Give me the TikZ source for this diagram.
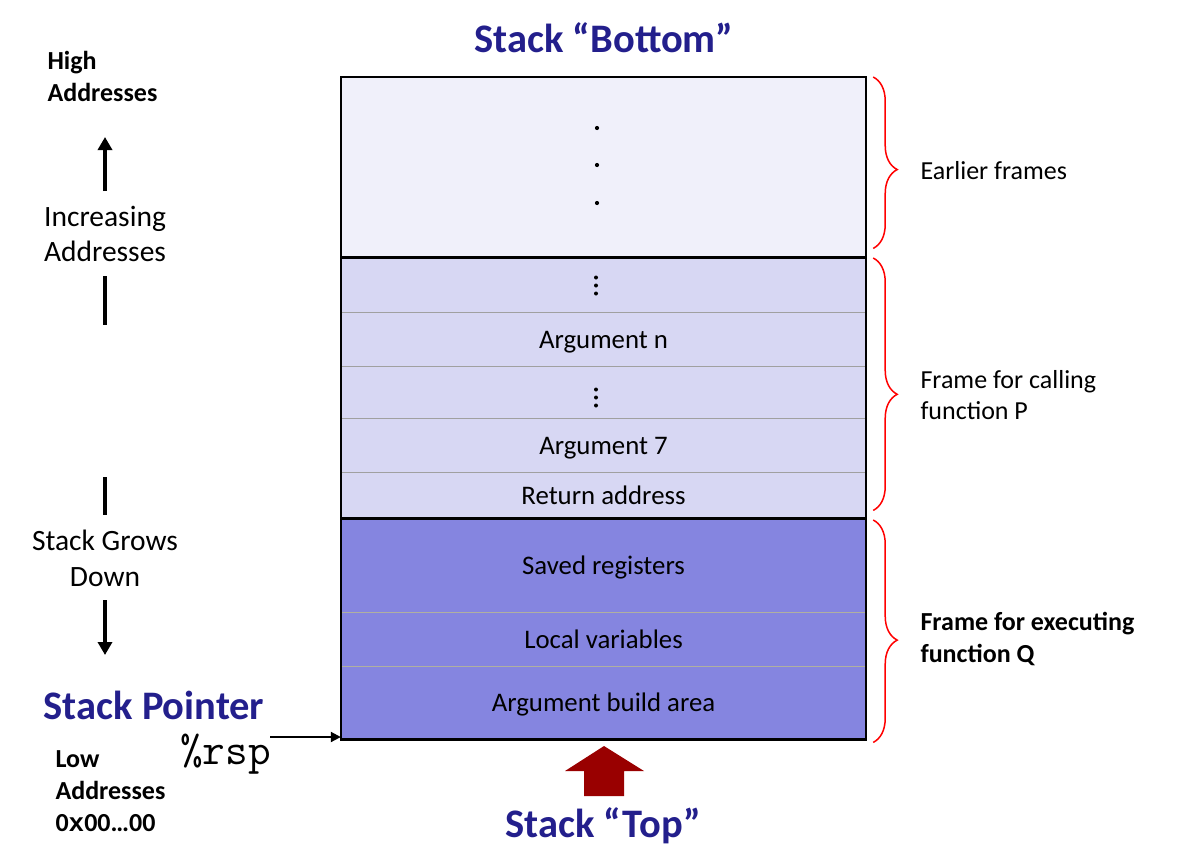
\documentclass[tikz,border=0pt]{standalone}
\usepackage{fontspec}
\setmainfont{Carlito}
\newfontfamily\monofont{Liberation Mono}
\usetikzlibrary{arrows.meta,decorations.pathreplacing}
\definecolor{titleblue}{RGB}{35,31,140}
\definecolor{earlyfill}{RGB}{240,240,250}
\definecolor{pfill}{RGB}{215,215,243}
\definecolor{qfill}{RGB}{133,133,224}
\definecolor{darkred}{RGB}{153,0,0}
\definecolor{sepgray}{RGB}{160,160,160}
\definecolor{sepgrayq}{RGB}{176,176,160}
\begin{document}
\begin{tikzpicture}[x=1pt,y=-1pt,
  row/.style={rectangle, inner sep=0pt, minimum width=525pt, anchor=north,
    text height=21pt, text depth=3pt,
    font=\fontsize{26.8}{32}\selectfont},
  lefttxt/.style={align=center, font=\fontsize{29.5}{35.5}\selectfont},
  righttxt/.style={align=left, anchor=west, font=\fontsize{26}{31}\selectfont},
  boldlbl/.style={align=left, anchor=west, font=\bfseries\fontsize{26}{32}\selectfont},
  title/.style={text=titleblue, font=\bfseries\fontsize{40.5}{46}\selectfont},
  bigarrow/.style={line width=4pt, -{Triangle[width=14pt,length=13pt]}},
  bar/.style={line width=4pt},
  redbrace/.style={draw=red, line width=1.5pt, decorate,
    decoration={brace, amplitude=24pt, aspect=0.54}},
  sep/.style={draw=sepgray, line width=1.5pt},
  sepq/.style={draw=sepgrayq, line width=1.5pt},
  dotmark/.style={circle, fill=black, inner sep=0pt, minimum size=4.2pt}
]
\useasboundingbox (0,0) rectangle (1190,860);

% rows
\node[row, fill=earlyfill, minimum height=180pt] (earlier) at (603.5,77) {};
\node[row, fill=pfill, minimum height=55pt] (dotsA) at (603.5,257) {};
\node[row, fill=pfill, minimum height=54pt] (argn) at (603.5,312) {Argument n};
\node[row, fill=pfill, minimum height=52pt] (dotsB) at (603.5,366) {};
\node[row, fill=pfill, minimum height=54pt] (argseven) at (603.5,418) {Argument 7};
\node[row, fill=pfill, minimum height=46pt] (ret) at (603.5,472) {Return address};
\node[row, fill=qfill, minimum height=94pt] (saved) at (603.5,518) {Saved registers};
\node[row, fill=qfill, minimum height=54pt] (local) at (603.5,612) {Local variables};
\node[row, fill=qfill, minimum height=73pt] (build) at (603.5,666) {Argument build area};

% separators
\draw[sep] (dotsA.south west) -- (dotsA.south east);
\draw[sep] (argn.south west) -- (argn.south east);
\draw[sep] (dotsB.south west) -- (dotsB.south east);
\draw[sep] (argseven.south west) -- (argseven.south east);
\draw[sepq] (saved.south west) -- (saved.south east);
\draw[sepq] (local.south west) -- (local.south east);
\draw[line width=2.5pt] (earlier.south west) -- (earlier.south east);
\draw[line width=2.5pt] (ret.south west) -- (ret.south east);
\draw[line width=2.5pt] (earlier.north west) rectangle (build.south east);

% dots
\node[dotmark] (e1) at (597,128) {};
\node[dotmark] (e2) at (597,165) {};
\node[dotmark] (e3) at (597,203) {};
\foreach \yy in {277.5,285.5,293.5} \fill (596,\yy) circle (2pt);
\foreach \yy in {389.5,397.5,405.5} \fill (596,\yy) circle (2pt);

% braces
\draw[redbrace] ([xshift=7pt]earlier.north east) -- ([xshift=7pt,yshift=9pt]earlier.south east);
\draw[redbrace] ([xshift=7pt,yshift=-1pt]dotsA.north east) -- ([xshift=7pt,yshift=8pt]ret.south east);
\draw[redbrace] ([xshift=7pt,yshift=-2pt]saved.north east) -- ([xshift=7pt,yshift=-3pt]build.south east);

\node[righttxt] (lblE) at (917,171) {Earlier frames};
\node[righttxt] (lblP) at (917,395) {Frame for calling\\function P};
\node[boldlbl] (lblQ) at (917,639) {Frame for executing\\function Q};

% titles
\node[title] (bottom) at (604,38) {Stack “Bottom”};
\node[title] (top) at (603,826) {Stack “Top”};
\fill[darkred] (604,746) -- (644,771) -- (624,771) -- (624,796) -- (584,796) -- (584,771) -- (565,771) -- cycle;

% left side
\node[boldlbl] (high) at (44,76) {High\\Addresses};
\coordinate (upS) at (105,191);
\coordinate (upE) at (105,137);
\draw[bigarrow] (upS) -- (upE);
\node[lefttxt] (incr) at (105,234) {Increasing\\Addresses};
\coordinate (b1s) at (105,276);
\coordinate (b1e) at (105,325);
\draw[bar] (b1s) -- (b1e);
\coordinate (b2s) at (105,477);
\coordinate (b2e) at (105,515);
\draw[bar] (b2s) -- (b2e);
\node[lefttxt] (grows) at (105,558.5) {Stack Grows\\Down};
\coordinate (dnS) at (105,600);
\coordinate (dnE) at (105,655);
\draw[bigarrow] (dnS) -- (dnE);
\node[title] (sp) at (154,705) {Stack Pointer};
\node[boldlbl] (low) at (52,791) {Low\\Addresses\\0{\monofont\bfseries x}00…00};
\node[anchor=base west, inner sep=0pt, font=\ttfamily\fontsize{44}{46}\selectfont] (rsp) at (180,764) {\%rsp};
\coordinate (rspA) at (270,737);
\draw[line width=2pt, -{Triangle[width=10pt,length=10pt]}] (rspA) -- (build.south west |- rspA);
\end{tikzpicture}
\end{document}
